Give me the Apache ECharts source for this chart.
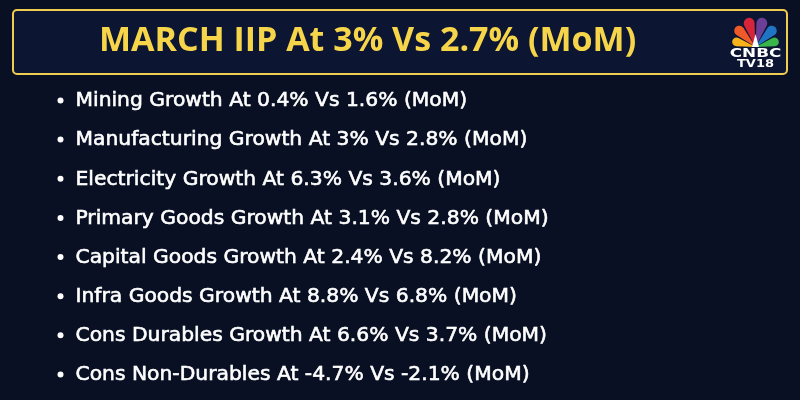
<!DOCTYPE html>
<html><head><meta charset="utf-8">
<script src="https://cdn.jsdelivr.net/npm/echarts@6/dist/echarts.min.js"></script>
<style>html,body{margin:0;padding:0;background:#091024;}#c{width:800px;height:400px;}</style>
</head><body><div id="c"></div>
<script>
const titleText = 'MARCH IIP At 3% Vs 2.7% (MoM)';
const categories = ['Mining Growth','Manufacturing Growth','Electricity Growth','Primary Goods Growth','Capital Goods Growth','Infra Goods Growth','Cons Durables Growth','Cons Non-Durables'];
const currentValues = ['0.4','3','6.3','3.1','2.4','8.8','6.6','-4.7'];
const previousValues = ['1.6','2.8','3.6','2.8','8.2','6.8','3.7','-2.1'];
const labels = categories.map((c,i)=>c+' At '+currentValues[i]+'% Vs '+previousValues[i]+'% (MoM)');

const chart = echarts.init(document.getElementById('c'), null, {renderer:'canvas'});
const feathers = ['#f9b21a','#f05a28','#d6243b','#6b3f98','#1f75c4','#3ab54a'];
const featherR = [24,28,30,30,28,24];
const OX = 755.5, OY = 47;
const featherEls = feathers.map((col,i)=>{
  const a0 = Math.PI + i*Math.PI/6;
  return {type:'sector', shape:{cx:OX, cy:OY, r0:0, r:featherR[i], startAngle:a0+0.04, endAngle:a0+Math.PI/6-0.04, cornerRadius:[0,0,8,8]}, style:{fill:col}};
});
chart.setOption({
  backgroundColor:'#091024',
  grid:{left:60.5,right:0,top:80.9,bottom:6},
  xAxis:{type:'value',min:0,max:100,show:false},
  yAxis:{type:'category',data:categories,inverse:true,show:false},
  series:[{
    type:'scatter',
    symbol:'circle',symbolSize:6,
    itemStyle:{color:'#ffffff',opacity:1},
    data:labels.map((l,i)=>({value:[0,categories[i]],label:{formatter:l}})),
    label:{show:true,position:'right',distance:12,offset:[0,0.5],color:'#ffffff',opacity:1,fontFamily:'DejaVu Sans',fontWeight:'normal',fontSize:20.3,textBorderColor:'#ffffff',textBorderWidth:0.6},
    silent:true,animation:false
  }],
  graphic:[
    {type:'rect',shape:{x:13,y:10,width:774,height:64,r:4},style:{fill:'#0c1632',stroke:'#f0cc50',lineWidth:2}},
    {type:'text',style:{text:titleText,x:99,y:41,verticalAlign:'middle',fill:'#f7d54a',font:'bold 34px "Open Sans"'}},
    ...featherEls,
    {type:'polygon',shape:{points:[[OX-3.5,OY],[OX+3.5,OY],[OX,OY-13]]},style:{fill:'#ffffff'}},
    {type:'text',style:{text:'CNBC',x:OX,y:54,align:'center',verticalAlign:'middle',fill:'#ffffff',font:'900 12px "DejaVu Sans"'},scaleX:1.4,originX:OX,originY:54},
    {type:'text',style:{text:'TV18',x:OX,y:64,align:'center',verticalAlign:'middle',fill:'#ffffff',font:'bold 10px "DejaVu Sans"'},scaleX:1.3,originX:OX,originY:64}
  ]
});
</script></body></html>
